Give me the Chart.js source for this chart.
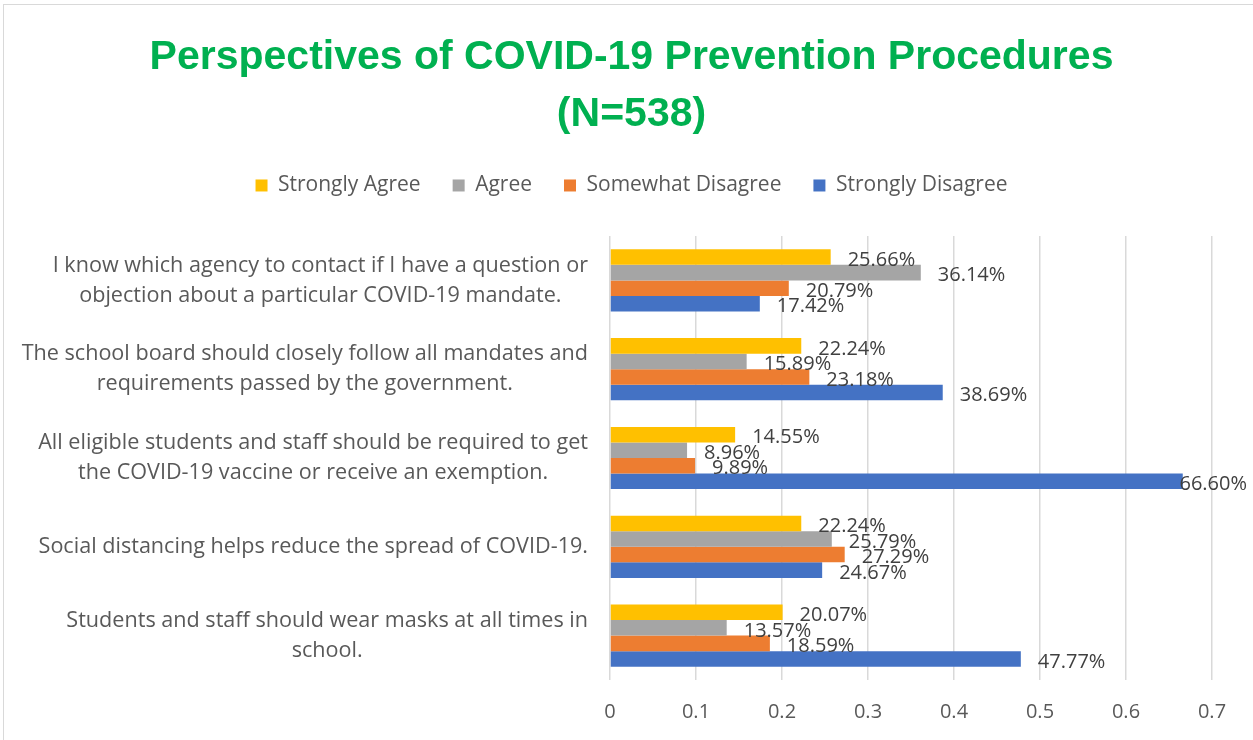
<!DOCTYPE html>
<html>
<head>
<meta charset="utf-8">
<script src="https://cdn.jsdelivr.net/npm/chart.js@4/dist/chart.umd.min.js"></script>
<style>
  body { margin: 0; background: #fff; }
  #frame { position: absolute; left: 3px; top: 4px; width: 1400px; height: 900px; border: 1px solid #d9d9d9; }
  #wrap { position: absolute; left: 0; top: 0; width: 1253px; height: 740px; }
</style>
</head>
<body>
<div id="frame"></div>
<div id="wrap"><canvas id="grafico"></canvas></div>
<script>
// Categorias (de cima para baixo)
const categorias = [
    ['I know which agency to contact if I have a question or', 'objection about a particular COVID-19 mandate.'],
    ['The school board should closely follow all mandates and', 'requirements passed by the government.'],
    ['All eligible students and staff should be required to get', 'the COVID-19 vaccine or receive an exemption.'],
    ['Social distancing helps reduce the spread of COVID-19.'],
    ['Students and staff should wear masks at all times in', 'school.']
];

const stronglyAgree      = [0.2566, 0.2224, 0.1455, 0.2224, 0.2007];
const agree              = [0.3614, 0.1589, 0.0896, 0.2579, 0.1357];
const somewhatDisagree   = [0.2079, 0.2318, 0.0989, 0.2729, 0.1859];
const stronglyDisagree   = [0.1742, 0.3869, 0.6660, 0.2467, 0.4777];

const tituloLinhas = ['Perspectives of COVID-19 Prevention Procedures', '(N=538)'];

const fonte = "'Open Sans', 'DejaVu Sans', sans-serif";

// Rótulos de valor ao lado das barras
const rotulosPlugin = {
    id: 'rotulos',
    afterDatasetsDraw(chart) {
        const ctx = chart.ctx;
        ctx.save();
        ctx.font = '20px ' + fonte;
        ctx.fillStyle = '#404040';
        ctx.textAlign = 'left';
        ctx.textBaseline = 'middle';
        chart.data.datasets.forEach((ds, i) => {
            const meta = chart.getDatasetMeta(i);
            meta.data.forEach((barra, j) => {
                const texto = (ds.data[j] * 100).toFixed(2) + '%';
                const w = ctx.measureText(texto).width;
                let x = barra.x + 17;
                if (x + w > chart.width - 6) x = chart.width - 6 - w;
                ctx.fillText(texto, x, barra.y + 3);
            });
        });
        ctx.restore();
    }
};

// Rótulos das categorias: bloco alinhado à direita, linhas centralizadas no bloco (como no Excel)
const categoriasPlugin = {
    id: 'categorias',
    afterDraw(chart) {
        const escala = chart.scales.y;
        const ctx = chart.ctx;
        ctx.save();
        ctx.font = '21.6px ' + fonte;
        ctx.fillStyle = '#595959';
        ctx.textAlign = 'center';
        ctx.textBaseline = 'middle';
        const direita = escala.right - 22;
        const alturaLinha = 30;
        chart.data.labels.forEach((linhas, i) => {
            const y = escala.getPixelForTick(i);
            const largura = Math.max(...linhas.map(l => ctx.measureText(l).width));
            const cx = direita - largura / 2;
            linhas.forEach((linha, k) => {
                ctx.fillText(linha, cx, y + (k - (linhas.length - 1) / 2) * alturaLinha);
            });
        });
        ctx.restore();
    }
};

const ctx = document.getElementById('grafico').getContext('2d');
new Chart(ctx, {
    type: 'bar',
    data: {
        labels: categorias,
        datasets: [
            { label: 'Strongly Agree', data: stronglyAgree, backgroundColor: '#ffc000' },
            { label: 'Agree', data: agree, backgroundColor: '#a5a5a5' },
            { label: 'Somewhat Disagree', data: somewhatDisagree, backgroundColor: '#ed7d31' },
            { label: 'Strongly Disagree', data: stronglyDisagree, backgroundColor: '#4472c4' }
        ]
    },
    options: {
        indexAxis: 'y',
        responsive: true,
        maintainAspectRatio: false,
        animation: false,
        datasets: { bar: { barPercentage: 1, categoryPercentage: 0.7 } },
        layout: { padding: { left: 10, right: 0, top: 0, bottom: -4 } },
        plugins: {
            title: {
                display: true,
                text: tituloLinhas,
                color: '#00b050',
                font: { family: "'Liberation Sans', sans-serif", size: 41, weight: 'bold', lineHeight: 1.39 },
                padding: { top: 29, bottom: 0 }
            },
            legend: {
                position: 'top',
                labels: {
                    color: '#595959',
                    font: { family: fonte, size: 21 },
                    boxWidth: 12,
                    boxHeight: 12,
                    padding: 32
                }
            },
            tooltip: { enabled: false }
        },
        scales: {
            x: {
                min: 0,
                max: 0.7,
                ticks: { stepSize: 0.1, color: '#595959', font: { family: fonte, size: 20 }, padding: 20 },
                grid: { color: '#d9d9d9', lineWidth: 1.5, drawTicks: false },
                border: { display: false }
            },
            // eixos vazios só para dar espaço (acima das barras e à direita)
            espaco: {
                type: 'linear',
                axis: 'x',
                position: 'top',
                ticks: { display: false },
                grid: { display: false, drawTicks: false },
                border: { display: false },
                afterFit: (escala) => { escala.height = 30; }
            },
            y: {
                afterFit: (escala) => { escala.width = 600; },
                ticks: { display: false },
                grid: { display: false, drawTicks: false },
                border: { display: false }
            },
            direita: {
                type: 'linear',
                axis: 'y',
                position: 'right',
                ticks: { display: false },
                grid: { display: false, drawTicks: false },
                border: { display: false },
                afterFit: (escala) => { escala.width = 41; }
            }
        }
    },
    plugins: [rotulosPlugin, categoriasPlugin]
});
</script>
</body>
</html>
